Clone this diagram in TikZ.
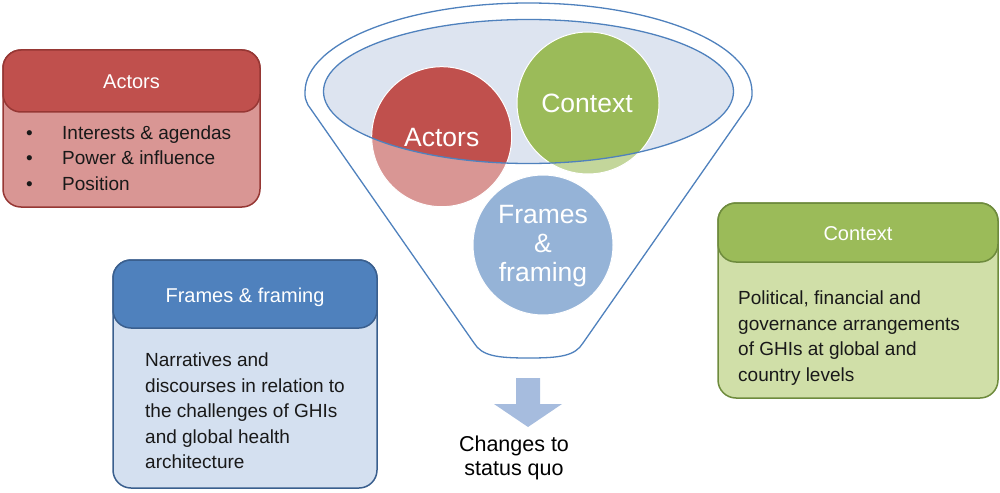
\documentclass[tikz,border=0pt]{standalone}
\usepackage{fontspec}
\setmainfont{Liberation Sans}
\definecolor{redhead}{RGB}{192,80,77}
\definecolor{redbody}{RGB}{217,150,148}
\definecolor{redline}{RGB}{150,55,52}
\definecolor{bluehead}{RGB}{79,129,189}
\definecolor{bluebody}{RGB}{212,224,240}
\definecolor{blueline}{RGB}{58,95,142}
\definecolor{greenhead}{RGB}{155,187,89}
\definecolor{greenbody}{RGB}{208,223,168}
\definecolor{greenline}{RGB}{110,139,61}
\definecolor{funnelline}{RGB}{79,129,189}
\definecolor{rimfill}{RGB}{221,228,240}
\definecolor{arrowfill}{RGB}{166,188,222}
\begin{document}
\begin{tikzpicture}[x=1pt,y=-1pt,
  boxpart/.style={draw, line width=1.5pt, rounded corners=18pt, inner sep=0pt},
  boxtitle/.style={text=white, font=\fontsize{20}{24}\selectfont, anchor=base, inner sep=0pt},
  bodytext/.style={font=\fontsize{19}{25.5}\selectfont, anchor=north west, align=left, inner sep=0pt, text=black!90},
  bubble/.style={circle, draw=white, line width=1pt, minimum size=140pt, inner sep=0pt},
  bubblelabel/.style={text=white, font=\fontsize{26.5}{29}\selectfont, anchor=base, align=center, inner sep=0pt},
  funnelstroke/.style={draw=funnelline, line width=1.3pt}]
\useasboundingbox (0,0) rectangle (1000,492);

% ---------- funnel ----------
\fill[rimfill] (528.5,91.5) ellipse [x radius=205, y radius=72];
\node[bubble, fill=redhead]   (cactors)  at (441.7,136.7) {};
\node[bubble, fill=greenhead, minimum size=142pt] (ccontext) at (588,103) {};
\node[bubble, fill=bluehead]  (cframes)  at (543,245) {};
\fill[white, opacity=0.4, even odd rule]
  (305,92) arc[start angle=180, end angle=360, x radius=223.5, y radius=89]
  .. controls (752,98) .. (749,105) -- (583,343)
  .. controls (575,356) and (560,358) .. (528.5,358)
  .. controls (497,358) and (482,356) .. (474,343) -- (308,105)
  .. controls (305,98) .. (305,92) -- cycle
  (528.5,91.5) ellipse [x radius=205, y radius=72];
\draw[funnelstroke] (528.5,91.5) ellipse [x radius=205, y radius=72];
\draw[funnelstroke]
  (305,92) arc[start angle=180, end angle=360, x radius=223.5, y radius=89]
  .. controls (752,98) .. (749,105) -- (583,343)
  .. controls (575,356) and (560,358) .. (528.5,358)
  .. controls (497,358) and (482,356) .. (474,343) -- (308,105)
  .. controls (305,98) .. (305,92) -- cycle;
\node[bubblelabel] (lactors)  at (441.7,146) {Actors};
\node[bubblelabel] (lcontext) at (587,112.5) {Context};
\node[bubblelabel, anchor=north] (lframes) at (543,205.5) {Frames\\\&\\framing};

% ---------- arrow and result ----------
\fill[arrowfill] (516,378) -- (540,378) -- (540,404) -- (562,404) -- (528,427) -- (494,404) -- (516,404) -- cycle;
\node[font=\fontsize{21.5}{24}\selectfont, align=center, anchor=north, inner sep=0pt] (result) at (514,435.5) {Changes to\\status quo};

% ---------- Actors box ----------
\node[boxpart, draw=redline, fill=redbody, minimum width=257pt, minimum height=157pt] (actorsbox) at (131.5,128.5) {};
\node[boxpart, draw=redline, fill=redhead, minimum width=257pt, minimum height=62pt] (actorshead) at (131.5,81) {};
\node[boxtitle] (actorstitle) at (131.5,89) {Actors};
\node[bodytext] (actorstext) at (26,125.5) {\makebox[36pt][l]{\textbullet}Interests \& agendas\\\makebox[36pt][l]{\textbullet}Power \& influence\\\makebox[36pt][l]{\textbullet}Position};

% ---------- Frames box ----------
\node[boxpart, draw=blueline, fill=bluebody, minimum width=264pt, minimum height=228pt] (framesbox) at (245,374) {};
\node[boxpart, draw=blueline, fill=bluehead, minimum width=264pt, minimum height=68pt] (frameshead) at (245,294) {};
\node[boxtitle] (framestitle) at (245,302) {Frames \& framing};
\node[bodytext] (framestext) at (145,353) {Narratives and\\discourses in relation to\\the challenges of GHIs\\and global health\\architecture};

% ---------- Context box ----------
\node[boxpart, draw=greenline, fill=greenbody, minimum width=280pt, minimum height=195pt] (contextbox) at (858,300.5) {};
\node[boxpart, draw=greenline, fill=greenhead, minimum width=280pt, minimum height=59pt] (contexthead) at (858,232.5) {};
\node[boxtitle] (contexttitle) at (858,240) {Context};
\node[bodytext] (contexttext) at (738,291) {Political, financial and\\governance arrangements\\of GHIs at global and\\country levels};
\end{tikzpicture}
\end{document}
